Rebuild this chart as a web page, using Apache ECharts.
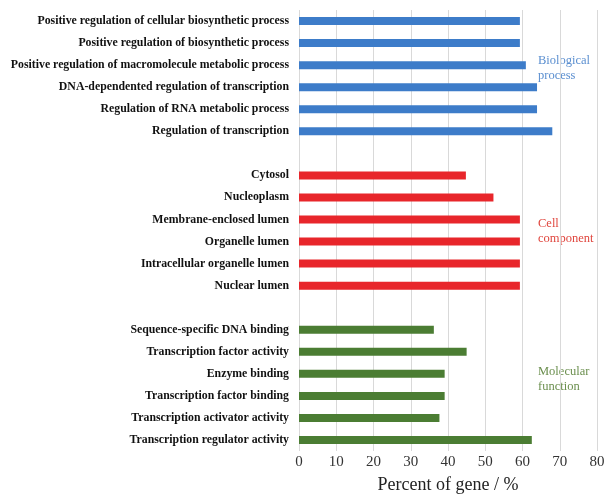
<!DOCTYPE html>
<html><head><meta charset="utf-8">
<script src="https://cdn.jsdelivr.net/npm/echarts@6/dist/echarts.min.js"></script>
<style>html,body{margin:0;padding:0;background:#fff}#c{width:612px;height:494px}</style>
</head><body><div id="c"></div>
<script>
const bpLabels = ["Positive regulation of cellular biosynthetic process","Positive regulation of biosynthetic process","Positive regulation of macromolecule metabolic process","DNA-dependented regulation of transcription","Regulation of RNA metabolic process","Regulation of transcription"];
const bpValues = [59.3, 59.3, 60.9, 63.9, 63.9, 68.0];
const ccLabels = ["Cytosol","Nucleoplasm","Membrane-enclosed lumen","Organelle lumen","Intracellular organelle lumen","Nuclear lumen"];
const ccValues = [44.8, 52.2, 59.3, 59.3, 59.3, 59.3];
const mfLabels = ["Sequence-specific DNA binding","Transcription factor activity","Enzyme binding","Transcription factor binding","Transcription activator activity","Transcription regulator activity"];
const mfValues = [36.2, 45.0, 39.1, 39.1, 37.7, 62.5];
const xTicks = [0,10,20,30,40,50,60,70,80];
const groupNames = ["Biological\nprocess","Cell\ncomponent","Molecular\nfunction"];
const colors = ["#3d7cc9","#e8262b","#4b7d33"];
const textColors = ["#5b8fd0","#e0463e","#6b8f4e"];

const groups = [[bpLabels,bpValues],[ccLabels,ccValues],[mfLabels,mfValues]];
const categories = [];
groups.forEach((g,i)=>{ if(i>0) categories.push(' '.repeat(i)); categories.push(...g[0]); });
const series = groups.map((g,gi)=>{
  const data = [];
  groups.forEach((h,hi)=>{
    if(hi>0) data.push('-');
    h[1].forEach(v=>data.push(hi===gi? v : '-'));
  });
  return {type:'bar', data, barWidth:8, barGap:'-100%', itemStyle:{color:colors[gi]}, silent:true};
});

const chart = echarts.init(document.getElementById('c'), null, {renderer:'canvas'});
chart.setOption({
  animation:false,
  grid:{left:299, right:15, top:10, bottom:43, containLabel:false, outerBoundsMode:'none'},
  xAxis:{type:'value', min:xTicks[0], max:xTicks[xTicks.length-1], interval:10,
    axisLine:{show:false}, axisTick:{show:false},
    splitLine:{show:true, lineStyle:{color:'#d9d9d9', width:1}},
    axisLabel:{fontFamily:'Liberation Serif', fontSize:15, color:'#333', margin:4},
    name:'Percent of gene / %', nameLocation:'middle', nameGap:25,
    nameTextStyle:{fontFamily:'Liberation Serif', fontSize:18, color:'#222'}},
  yAxis:{type:'category', data:categories, inverse:true,
    axisLine:{show:false}, axisTick:{show:false}, splitLine:{show:false},
    axisLabel:{fontFamily:'Liberation Serif', fontWeight:'bold', fontSize:11.8, color:'#111', margin:10, interval:0}},
  series,
  graphic:[
    {type:'text', left:538, top:53, style:{text:groupNames[0], fill:textColors[0], font:'12.5px "Liberation Serif"', lineHeight:15}},
    {type:'text', left:538, top:216, style:{text:groupNames[1], fill:textColors[1], font:'12.5px "Liberation Serif"', lineHeight:15}},
    {type:'text', left:538, top:364, style:{text:groupNames[2], fill:textColors[2], font:'12.5px "Liberation Serif"', lineHeight:15}}
  ]
});
</script></body></html>
